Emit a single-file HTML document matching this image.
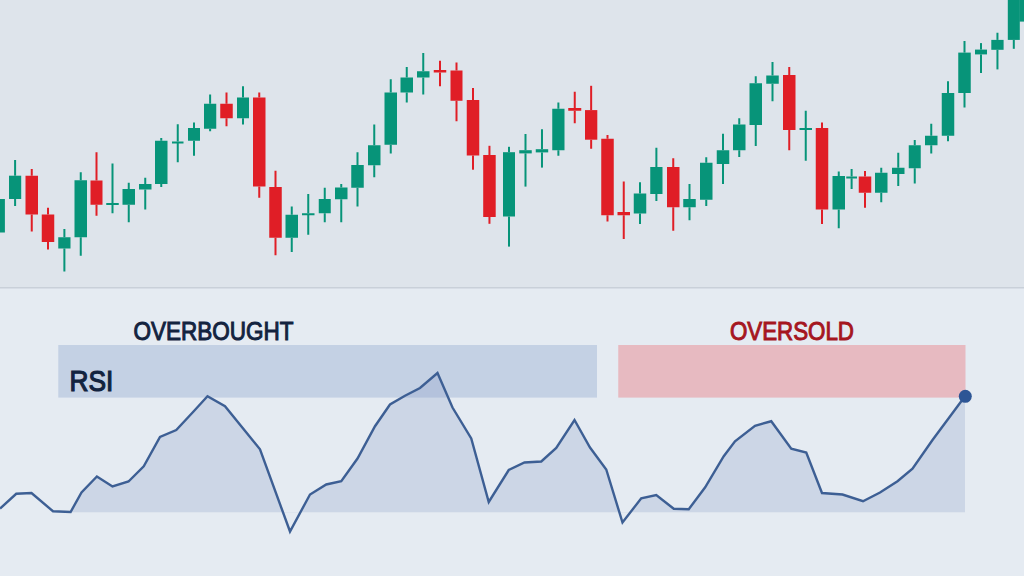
<!DOCTYPE html>
<html><head><meta charset="utf-8">
<style>
html,body{margin:0;padding:0;}
body{width:1024px;height:576px;overflow:hidden;position:relative;background:#e5ebf2;font-family:"Liberation Sans",sans-serif;}
svg{position:absolute;left:0;top:0;}
</style></head><body>
<svg width="1024" height="576" viewBox="0 0 1024 576">
<defs>
<clipPath id="cb"><rect x="0" y="0" width="1024" height="512.5"/></clipPath>
</defs>
<rect x="0" y="0" width="1024" height="288" fill="#dee4eb"/>
<rect x="0" y="288" width="1024" height="288" fill="#e5ebf2"/>
<rect x="0" y="287" width="1024" height="1.5" fill="#c9d0d9"/>
<rect x="0" y="199" width="4.90" height="33.50" fill="#079479"/>
<rect x="14.10" y="160" width="2.0" height="15.70" fill="#079479"/>
<rect x="14.10" y="199" width="2.0" height="7.00" fill="#079479"/>
<rect x="9" y="175.7" width="12.20" height="23.30" fill="#079479"/>
<rect x="30.75" y="169" width="2.0" height="6.75" fill="#e01e26"/>
<rect x="30.75" y="214.5" width="2.0" height="17.00" fill="#e01e26"/>
<rect x="25.5" y="175.75" width="12.50" height="38.75" fill="#e01e26"/>
<rect x="47.00" y="207.75" width="2.0" height="6.75" fill="#e01e26"/>
<rect x="47.00" y="242" width="2.0" height="7.50" fill="#e01e26"/>
<rect x="41.75" y="214.5" width="12.50" height="27.50" fill="#e01e26"/>
<rect x="63.38" y="229" width="2.0" height="8.25" fill="#079479"/>
<rect x="63.38" y="248.5" width="2.0" height="23.00" fill="#079479"/>
<rect x="58.25" y="237.25" width="12.25" height="11.25" fill="#079479"/>
<rect x="79.75" y="172.25" width="2.0" height="8.00" fill="#079479"/>
<rect x="79.75" y="237.25" width="2.0" height="18.50" fill="#079479"/>
<rect x="74.5" y="180.25" width="12.50" height="57.00" fill="#079479"/>
<rect x="95.50" y="152.25" width="2.0" height="28.25" fill="#e01e26"/>
<rect x="95.50" y="204.75" width="2.0" height="11.00" fill="#e01e26"/>
<rect x="90.5" y="180.5" width="12.00" height="24.25" fill="#e01e26"/>
<rect x="111.50" y="163.5" width="2.0" height="39.50" fill="#079479"/>
<rect x="111.50" y="205" width="2.0" height="8.25" fill="#079479"/>
<rect x="106.25" y="203" width="12.50" height="2.00" fill="#079479"/>
<rect x="127.75" y="182.75" width="2.0" height="6.25" fill="#079479"/>
<rect x="127.75" y="204.75" width="2.0" height="17.50" fill="#079479"/>
<rect x="122.5" y="189" width="12.50" height="15.75" fill="#079479"/>
<rect x="144.25" y="177.75" width="2.0" height="6.25" fill="#079479"/>
<rect x="144.25" y="189.5" width="2.0" height="20.00" fill="#079479"/>
<rect x="139" y="184" width="12.50" height="5.50" fill="#079479"/>
<rect x="160.25" y="138" width="2.0" height="2.75" fill="#079479"/>
<rect x="160.25" y="184" width="2.0" height="3.00" fill="#079479"/>
<rect x="155" y="140.75" width="12.50" height="43.25" fill="#079479"/>
<rect x="176.75" y="124.25" width="2.0" height="17.25" fill="#079479"/>
<rect x="176.75" y="143" width="2.0" height="19.25" fill="#079479"/>
<rect x="172" y="141.5" width="11.50" height="2.00" fill="#079479"/>
<rect x="193.00" y="122.5" width="2.0" height="5.50" fill="#079479"/>
<rect x="193.00" y="140.75" width="2.0" height="15.00" fill="#079479"/>
<rect x="188" y="128" width="12.00" height="12.75" fill="#079479"/>
<rect x="209.12" y="94.5" width="2.0" height="9.25" fill="#079479"/>
<rect x="209.12" y="128.75" width="2.0" height="2.50" fill="#079479"/>
<rect x="204" y="103.75" width="12.25" height="25.00" fill="#079479"/>
<rect x="225.50" y="92.5" width="2.0" height="11.25" fill="#e01e26"/>
<rect x="225.50" y="118.25" width="2.0" height="8.00" fill="#e01e26"/>
<rect x="220.25" y="103.75" width="12.50" height="14.50" fill="#e01e26"/>
<rect x="242.00" y="86.25" width="2.0" height="11.25" fill="#079479"/>
<rect x="242.00" y="118.25" width="2.0" height="6.25" fill="#079479"/>
<rect x="237" y="97.5" width="12.00" height="20.75" fill="#079479"/>
<rect x="258.25" y="92.5" width="2.0" height="5.00" fill="#e01e26"/>
<rect x="258.25" y="186.5" width="2.0" height="11.25" fill="#e01e26"/>
<rect x="253" y="97.5" width="12.50" height="89.00" fill="#e01e26"/>
<rect x="274.50" y="170.75" width="2.0" height="16.25" fill="#e01e26"/>
<rect x="274.50" y="237.75" width="2.0" height="17.50" fill="#e01e26"/>
<rect x="269.25" y="187" width="12.50" height="50.75" fill="#e01e26"/>
<rect x="290.75" y="206.5" width="2.0" height="8.25" fill="#079479"/>
<rect x="290.75" y="237.75" width="2.0" height="14.25" fill="#079479"/>
<rect x="285.5" y="214.75" width="12.50" height="23.00" fill="#079479"/>
<rect x="307.25" y="194" width="2.0" height="19.25" fill="#079479"/>
<rect x="307.25" y="215" width="2.0" height="19.75" fill="#079479"/>
<rect x="302" y="213.25" width="12.50" height="2.00" fill="#079479"/>
<rect x="323.75" y="187.75" width="2.0" height="11.25" fill="#079479"/>
<rect x="323.75" y="213.25" width="2.0" height="9.00" fill="#079479"/>
<rect x="318.75" y="199" width="12.00" height="14.25" fill="#079479"/>
<rect x="340.25" y="184" width="2.0" height="3.50" fill="#079479"/>
<rect x="340.25" y="199.25" width="2.0" height="23.00" fill="#079479"/>
<rect x="335" y="187.5" width="12.50" height="11.75" fill="#079479"/>
<rect x="356.50" y="152.25" width="2.0" height="12.75" fill="#079479"/>
<rect x="356.50" y="187.75" width="2.0" height="18.75" fill="#079479"/>
<rect x="351.25" y="165" width="12.50" height="22.75" fill="#079479"/>
<rect x="373.25" y="124.5" width="2.0" height="20.75" fill="#079479"/>
<rect x="373.25" y="165.25" width="2.0" height="12.00" fill="#079479"/>
<rect x="368" y="145.25" width="12.50" height="20.00" fill="#079479"/>
<rect x="389.75" y="79.25" width="2.0" height="13.25" fill="#079479"/>
<rect x="389.75" y="144.75" width="2.0" height="8.75" fill="#079479"/>
<rect x="384.5" y="92.5" width="12.50" height="52.25" fill="#079479"/>
<rect x="405.75" y="67" width="2.0" height="10.50" fill="#079479"/>
<rect x="405.75" y="92.5" width="2.0" height="10.00" fill="#079479"/>
<rect x="400.5" y="77.5" width="12.50" height="15.00" fill="#079479"/>
<rect x="422.25" y="53" width="2.0" height="18.25" fill="#079479"/>
<rect x="422.25" y="77.5" width="2.0" height="17.00" fill="#079479"/>
<rect x="417" y="71.25" width="12.50" height="6.25" fill="#079479"/>
<rect x="439.00" y="60.75" width="2.0" height="9.25" fill="#e01e26"/>
<rect x="439.00" y="72.5" width="2.0" height="13.75" fill="#e01e26"/>
<rect x="433.75" y="70" width="12.50" height="2.50" fill="#e01e26"/>
<rect x="455.50" y="62.5" width="2.0" height="8.00" fill="#e01e26"/>
<rect x="455.50" y="100.75" width="2.0" height="20.50" fill="#e01e26"/>
<rect x="450.5" y="70.5" width="12.00" height="30.25" fill="#e01e26"/>
<rect x="472.00" y="88" width="2.0" height="12.00" fill="#e01e26"/>
<rect x="472.00" y="155.5" width="2.0" height="14.20" fill="#e01e26"/>
<rect x="466.75" y="100" width="12.50" height="55.50" fill="#e01e26"/>
<rect x="488.45" y="145.8" width="2.0" height="9.20" fill="#e01e26"/>
<rect x="488.45" y="217" width="2.0" height="6.80" fill="#e01e26"/>
<rect x="483.2" y="155" width="12.50" height="62.00" fill="#e01e26"/>
<rect x="508.00" y="146.8" width="2.0" height="5.40" fill="#079479"/>
<rect x="508.00" y="216.5" width="2.0" height="30.10" fill="#079479"/>
<rect x="503" y="152.2" width="12.00" height="64.30" fill="#079479"/>
<rect x="524.50" y="134" width="2.0" height="16.20" fill="#079479"/>
<rect x="524.50" y="153.4" width="2.0" height="33.20" fill="#079479"/>
<rect x="519.25" y="150.2" width="12.50" height="3.20" fill="#079479"/>
<rect x="540.98" y="129.25" width="2.0" height="19.95" fill="#079479"/>
<rect x="540.98" y="152.4" width="2.0" height="15.20" fill="#079479"/>
<rect x="535.75" y="149.2" width="12.45" height="3.20" fill="#079479"/>
<rect x="557.38" y="102.5" width="2.0" height="6.25" fill="#079479"/>
<rect x="557.38" y="150.25" width="2.0" height="5.50" fill="#079479"/>
<rect x="552.25" y="108.75" width="12.25" height="41.50" fill="#079479"/>
<rect x="573.75" y="91.75" width="2.0" height="16.25" fill="#e01e26"/>
<rect x="573.75" y="110.75" width="2.0" height="12.50" fill="#e01e26"/>
<rect x="568.25" y="108" width="13.00" height="2.75" fill="#e01e26"/>
<rect x="590.15" y="85.8" width="2.0" height="24.30" fill="#e01e26"/>
<rect x="590.15" y="139.7" width="2.0" height="9.05" fill="#e01e26"/>
<rect x="585" y="110.1" width="12.30" height="29.60" fill="#e01e26"/>
<rect x="606.50" y="135" width="2.0" height="3.75" fill="#e01e26"/>
<rect x="606.50" y="215.25" width="2.0" height="6.25" fill="#e01e26"/>
<rect x="601.25" y="138.75" width="12.50" height="76.50" fill="#e01e26"/>
<rect x="622.75" y="181.5" width="2.0" height="30.50" fill="#e01e26"/>
<rect x="622.75" y="215.25" width="2.0" height="23.75" fill="#e01e26"/>
<rect x="617.5" y="212" width="12.50" height="3.25" fill="#e01e26"/>
<rect x="639.00" y="182.25" width="2.0" height="11.25" fill="#079479"/>
<rect x="639.00" y="213.5" width="2.0" height="10.50" fill="#079479"/>
<rect x="633.75" y="193.5" width="12.50" height="20.00" fill="#079479"/>
<rect x="655.38" y="147.75" width="2.0" height="19.25" fill="#079479"/>
<rect x="655.38" y="194" width="2.0" height="7.00" fill="#079479"/>
<rect x="650.25" y="167" width="12.25" height="27.00" fill="#079479"/>
<rect x="672.25" y="158.25" width="2.0" height="8.75" fill="#e01e26"/>
<rect x="672.25" y="207.25" width="2.0" height="23.50" fill="#e01e26"/>
<rect x="667" y="167" width="12.50" height="40.25" fill="#e01e26"/>
<rect x="688.50" y="184" width="2.0" height="15.00" fill="#079479"/>
<rect x="688.50" y="207.25" width="2.0" height="13.00" fill="#079479"/>
<rect x="683.25" y="199" width="12.50" height="8.25" fill="#079479"/>
<rect x="705.25" y="157.25" width="2.0" height="5.50" fill="#079479"/>
<rect x="705.25" y="199.75" width="2.0" height="6.25" fill="#079479"/>
<rect x="700" y="162.75" width="12.50" height="37.00" fill="#079479"/>
<rect x="722.00" y="133.75" width="2.0" height="16.50" fill="#079479"/>
<rect x="722.00" y="164" width="2.0" height="20.00" fill="#079479"/>
<rect x="716.75" y="150.25" width="12.50" height="13.75" fill="#079479"/>
<rect x="738.25" y="118.25" width="2.0" height="6.25" fill="#079479"/>
<rect x="738.25" y="150.25" width="2.0" height="6.75" fill="#079479"/>
<rect x="733" y="124.5" width="12.50" height="25.75" fill="#079479"/>
<rect x="754.75" y="76.25" width="2.0" height="7.00" fill="#079479"/>
<rect x="754.75" y="125" width="2.0" height="21.00" fill="#079479"/>
<rect x="749.5" y="83.25" width="12.50" height="41.75" fill="#079479"/>
<rect x="771.50" y="62" width="2.0" height="13.50" fill="#079479"/>
<rect x="771.50" y="83.75" width="2.0" height="17.50" fill="#079479"/>
<rect x="766.25" y="75.5" width="12.50" height="8.25" fill="#079479"/>
<rect x="788.25" y="67" width="2.0" height="8.00" fill="#e01e26"/>
<rect x="788.25" y="130" width="2.0" height="20.25" fill="#e01e26"/>
<rect x="783" y="75" width="12.50" height="55.00" fill="#e01e26"/>
<rect x="804.75" y="110.75" width="2.0" height="17.25" fill="#079479"/>
<rect x="804.75" y="130" width="2.0" height="30.75" fill="#079479"/>
<rect x="799.5" y="128" width="12.50" height="2.00" fill="#079479"/>
<rect x="821.00" y="122.5" width="2.0" height="5.50" fill="#e01e26"/>
<rect x="821.00" y="209.5" width="2.0" height="14.50" fill="#e01e26"/>
<rect x="815.75" y="128" width="12.50" height="81.50" fill="#e01e26"/>
<rect x="837.75" y="171.5" width="2.0" height="4.50" fill="#079479"/>
<rect x="837.75" y="209.5" width="2.0" height="18.75" fill="#079479"/>
<rect x="832.5" y="176" width="12.50" height="33.50" fill="#079479"/>
<rect x="850.62" y="169" width="2.0" height="7.50" fill="#079479"/>
<rect x="850.62" y="178.25" width="2.0" height="10.75" fill="#079479"/>
<rect x="846.25" y="176.5" width="10.75" height="2.00" fill="#079479"/>
<rect x="864.00" y="171" width="2.0" height="5.50" fill="#e01e26"/>
<rect x="864.00" y="192.75" width="2.0" height="15.00" fill="#e01e26"/>
<rect x="858.75" y="176.5" width="12.50" height="16.25" fill="#e01e26"/>
<rect x="880.25" y="167.75" width="2.0" height="5.00" fill="#079479"/>
<rect x="880.25" y="192.75" width="2.0" height="9.50" fill="#079479"/>
<rect x="875" y="172.75" width="12.50" height="20.00" fill="#079479"/>
<rect x="897.25" y="152.75" width="2.0" height="15.00" fill="#079479"/>
<rect x="897.25" y="174" width="2.0" height="12.00" fill="#079479"/>
<rect x="892" y="167.75" width="12.50" height="6.25" fill="#079479"/>
<rect x="913.75" y="140" width="2.0" height="5.25" fill="#079479"/>
<rect x="913.75" y="168.25" width="2.0" height="15.25" fill="#079479"/>
<rect x="908.75" y="145.25" width="12.00" height="23.00" fill="#079479"/>
<rect x="930.25" y="123.75" width="2.0" height="12.00" fill="#079479"/>
<rect x="930.25" y="145.25" width="2.0" height="8.25" fill="#079479"/>
<rect x="925" y="135.75" width="12.50" height="9.50" fill="#079479"/>
<rect x="947.00" y="81.25" width="2.0" height="11.75" fill="#079479"/>
<rect x="947.00" y="135.75" width="2.0" height="5.50" fill="#079479"/>
<rect x="941.75" y="93" width="12.50" height="42.75" fill="#079479"/>
<rect x="963.50" y="41" width="2.0" height="11.60" fill="#079479"/>
<rect x="963.50" y="93" width="2.0" height="14.50" fill="#079479"/>
<rect x="958.25" y="52.6" width="12.50" height="40.40" fill="#079479"/>
<rect x="980.00" y="43.1" width="2.0" height="6.50" fill="#079479"/>
<rect x="980.00" y="54.4" width="2.0" height="18.60" fill="#079479"/>
<rect x="975" y="49.6" width="12.00" height="4.80" fill="#079479"/>
<rect x="996.45" y="32.75" width="2.0" height="7.15" fill="#079479"/>
<rect x="996.45" y="49.8" width="2.0" height="19.60" fill="#079479"/>
<rect x="991.3" y="39.9" width="12.30" height="9.90" fill="#079479"/>
<rect x="1012.80" y="39.9" width="2.0" height="8.90" fill="#079479"/>
<rect x="1007.8" y="-2" width="12.00" height="41.90" fill="#079479"/>
<rect x="1019.4" y="-2" width="6.60" height="23.60" fill="#079479"/>
<rect x="58.3" y="345" width="538.7" height="52.6" fill="#c4d1e4"/>
<rect x="618.25" y="345" width="347.25" height="52.6" fill="#e7bac1"/>
<polygon points="70.6,512 81.5,492.5 96.9,476.5 112.5,486.5 128.5,481.5 143.75,466.25 160,437 176.25,430 193.75,411.25 207.5,396.25 225,406.25 260,449.25 290,531.5 310,494.5 326.25,484.5 341.25,481.25 357.5,458.5 375,426.25 390,404.5 405,395.75 420,388 437.5,373 452.5,407.5 471.25,438.5 488.75,502 508.75,470 524.5,462.5 541.25,461.5 556.25,448 574.5,420 590,447.5 606.25,469.5 622.5,522.5 641.25,498.25 656.25,495 673.75,508.75 688.75,509.25 705,487.5 723.75,456.25 735,441.25 755,425.75 771.25,421.25 791.25,448.75 806.25,452.5 822,493 842.5,494.5 863,501.25 880,492.5 897.5,481.25 912.5,468.75 932.5,440 965,396.25 965,512.5 70.6,512.5" fill="#8597c2" fill-opacity="0.25" clip-path="url(#cb)"/>
<polyline points="0,508.5 16.25,493.75 31.5,493 53,511.25 70.6,512 81.5,492.5 96.9,476.5 112.5,486.5 128.5,481.5 143.75,466.25 160,437 176.25,430 193.75,411.25 207.5,396.25 225,406.25 260,449.25 290,531.5 310,494.5 326.25,484.5 341.25,481.25 357.5,458.5 375,426.25 390,404.5 405,395.75 420,388 437.5,373 452.5,407.5 471.25,438.5 488.75,502 508.75,470 524.5,462.5 541.25,461.5 556.25,448 574.5,420 590,447.5 606.25,469.5 622.5,522.5 641.25,498.25 656.25,495 673.75,508.75 688.75,509.25 705,487.5 723.75,456.25 735,441.25 755,425.75 771.25,421.25 791.25,448.75 806.25,452.5 822,493 842.5,494.5 863,501.25 880,492.5 897.5,481.25 912.5,468.75 932.5,440 965,396.25" fill="none" stroke="#3d5f94" stroke-width="2.4" stroke-linejoin="miter" stroke-linecap="butt"/>
<circle cx="965.3" cy="396.3" r="6.5" fill="#2d5595"/>
<text x="133.5" y="340" font-family="Liberation Sans" font-size="25.2" fill="#13233f" stroke="#13233f" stroke-width="1.0" textLength="160" lengthAdjust="spacingAndGlyphs">OVERBOUGHT</text>
<text x="730" y="340" font-family="Liberation Sans" font-size="25.2" fill="#a5161f" stroke="#a5161f" stroke-width="1.0" textLength="124" lengthAdjust="spacingAndGlyphs">OVERSOLD</text>
<text x="69.5" y="391.1" font-family="Liberation Sans" font-size="29.5" fill="#13233f" stroke="#13233f" stroke-width="1.2" textLength="43.8" lengthAdjust="spacingAndGlyphs">RSI</text>
</svg>
</body></html>
